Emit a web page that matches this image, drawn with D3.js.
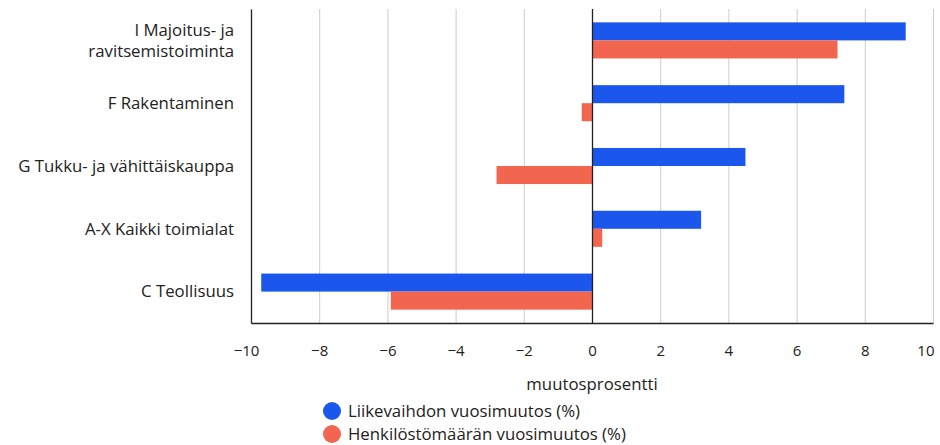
<!DOCTYPE html>
<html>
<head>
<meta charset="utf-8">
<script src="https://cdn.jsdelivr.net/npm/d3@7"></script>
<style>
  body { margin: 0; background: #fff; }
  svg { display: block; font-family: "Open Sans", "Noto Sans", sans-serif; }
</style>
</head>
<body>
<div class="chart"></div>
<script>
var width = 940;
var height = 445;

// toimialat ja sarjat
var categories = [
    ["I Majoitus- ja", "ravitsemistoiminta"],
    ["F Rakentaminen"],
    ["G Tukku- ja vähittäiskauppa"],
    ["A-X Kaikki toimialat"],
    ["C Teollisuus"]
];
var seriesNames = ["Liikevaihdon vuosimuutos (%)", "Henkilöstömäärän vuosimuutos (%)"];
var seriesColors = ["#1b57ec", "#f2654f"];
var liikevaihto = [9.2, 7.4, 4.5, 3.2, -9.7];
var henkilosto = [7.2, -0.3, -2.8, 0.3, -5.9];
var xTicks = [-10, -8, -6, -4, -2, 0, 2, 4, 6, 8, 10];
var axisTitle = "muutosprosentti";

var margin = { top: 9, left: 251, right: 7, bottom: 122 };
var fontSize = 16.8;
var lineGap = 21;

var svg = d3.select(".chart")
    .append("svg")
    .attr("width", width)
    .attr("height", height);

var x = d3.scaleLinear()
    .domain([-10, 10])
    .range([margin.left, width - margin.right]);

var y = d3.scaleBand()
    .domain(d3.range(categories.length))
    .range([margin.top, height - margin.bottom]);

var ySub = d3.scaleBand()
    .domain([0, 1])
    .range([0, y.bandwidth()])
    .paddingOuter(0.74);

// pystyviivat
svg.append("g")
    .selectAll("line")
    .data(xTicks)
    .enter()
    .append("line")
    .attr("x1", d => x(d) + 0.5)
    .attr("x2", d => x(d) + 0.5)
    .attr("y1", margin.top)
    .attr("y2", height - margin.bottom)
    .attr("stroke", "#cccccc")
    .attr("stroke-width", 1);

// palkit
var data = [];
categories.forEach((c, i) => {
    data.push({ cat: i, s: 0, v: liikevaihto[i] });
    data.push({ cat: i, s: 1, v: henkilosto[i] });
});

svg.append("g")
    .selectAll("rect")
    .data(data)
    .enter()
    .append("rect")
    .attr("x", d => x(Math.min(0, d.v)))
    .attr("width", d => Math.abs(x(d.v) - x(0)))
    .attr("y", d => y(d.cat) + ySub(d.s))
    .attr("height", ySub.bandwidth())
    .attr("fill", d => seriesColors[d.s]);

// nollaviiva
svg.append("line")
    .attr("x1", x(0) + 0.5)
    .attr("x2", x(0) + 0.5)
    .attr("y1", margin.top)
    .attr("y2", height - margin.bottom)
    .attr("stroke", "#222")
    .attr("stroke-width", 1.3);

// akselit
var xAxis = svg.append("g")
    .attr("transform", `translate(0,${height - margin.bottom})`)
    .call(d3.axisBottom(x)
        .tickValues(xTicks)
        .tickSize(0)
        .tickPadding(22)
        .tickFormat(d => d < 0 ? "\u2212" + Math.abs(d) : d));
xAxis.select(".domain").attr("stroke", "#222").attr("stroke-width", 1.3);
xAxis.selectAll("text")
    .attr("font-size", 15)
    .attr("fill", "#222")
    .attr("font-family", "\"Open Sans\", sans-serif");
// viimeinen luku reunaan asti
xAxis.selectAll("text")
    .filter(d => d === 10)
    .attr("text-anchor", "end")
    .attr("x", 1);
xAxis.selectAll("text")
    .filter(d => d === -10)
    .attr("x", -5);

var yAxis = svg.append("g")
    .attr("transform", `translate(${margin.left},0)`)
    .call(d3.axisLeft(y).tickSize(0).tickFormat(""));
yAxis.select(".domain").attr("stroke", "#222").attr("stroke-width", 1.3);

// kategoriatekstit
var labels = svg.append("g")
    .selectAll("text")
    .data(categories)
    .enter()
    .append("text")
    .attr("x", 234)
    .attr("y", (d, i) => y(i) + y.bandwidth() / 2)
    .attr("text-anchor", "end")
    .attr("font-size", fontSize)
    .attr("fill", "#222");
labels.each(function (d) {
    var t = d3.select(this);
    var off = -(d.length - 1) * lineGap / 2;
    d.forEach((line, j) => {
        t.append("tspan")
            .attr("x", 234)
            .attr("y", +t.attr("y") + off + j * lineGap)
            .attr("dy", "0.35em")
            .text(line);
    });
});

// akselin otsikko
svg.append("text")
    .attr("x", x(0))
    .attr("y", 384)
    .attr("dy", "0.35em")
    .attr("text-anchor", "middle")
    .attr("font-size", fontSize)
    .attr("fill", "#222")
    .text(axisTitle);

// selite
var legend = svg.append("g")
    .selectAll("g")
    .data(seriesNames)
    .enter()
    .append("g")
    .attr("transform", (d, i) => `translate(332,${411 + i * 23})`);
legend.append("circle")
    .attr("r", 9)
    .attr("fill", (d, i) => seriesColors[i]);
legend.append("text")
    .attr("x", 16)
    .attr("dy", "0.35em")
    .attr("font-size", fontSize)
    .attr("fill", "#222")
    .text(d => d);
</script>
</body>
</html>
